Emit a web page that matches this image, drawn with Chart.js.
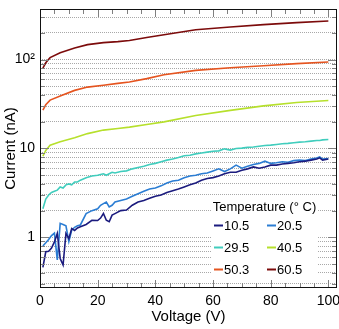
<!DOCTYPE html>
<html>
<head>
<meta charset="utf-8">
<script src="https://cdn.jsdelivr.net/npm/chart.js@4.4.1/dist/chart.umd.min.js"></script>
<style>
  html, body { margin: 0; padding: 0; background: #fff; }
</style>
</head>
<body>
<canvas id="myChart" width="339" height="329"></canvas>
<script>
// legend labels + line colours
const temperatures = ['10.5', '20.5', '29.5', '40.5', '50.3', '60.5'];
const colors = ['#1b1b7e', '#2b7dd3', '#40cdbd', '#b6e02c', '#e5541f', '#7c0b0b'];

// fine voltage grid for the noisy low-temperature curves
const voltageFine = [1,2,3,4,5,6,7,8,9,10,11,12,13,14,16,18,20,21,22,23,24,25,26,
  28,30,32,34,36,38,40,42,44,46,48,50,52,54,56,58,60,62,64,66,68,70,72,74,76,78,80,
  82,84,86,88,90,92,94,96,97,98,100];
const current105 = [0.46,0.69,0.70,0.76,0.89,1.11,0.58,0.49,1.11,0.97,1.26,1.2,1.28,1.32,
  1.4,1.56,1.55,1.65,1.86,1.56,1.5,1.78,1.85,
  2.0,2.03,2.3,2.5,2.6,2.75,2.9,3.0,3.2,3.35,3.5,3.7,3.9,4.1,4.4,4.6,4.7,4.9,5.2,5.4,5.4,
  5.7,5.9,6.2,6.0,6.2,6.5,6.5,6.7,6.8,6.9,7.1,7.2,7.4,7.6,7.85,7.4,7.6];
const current205 = [0.80,0.87,0.95,1.05,1.12,0.56,1.44,1.40,1.35,0.9,1.21,1.3,1.35,1.38,
  1.85,2.0,2.1,2.3,2.4,2.5,2.2,2.3,2.5,
  2.6,2.7,2.9,3.1,3.3,3.5,3.6,3.8,4.1,4.3,4.4,4.7,4.9,5.0,5.2,5.3,5.6,5.9,5.5,5.9,6.5,
  6.0,6.3,6.6,6.8,7.2,6.8,6.9,7.1,7.0,7.3,7.4,7.3,7.6,7.8,8.05,7.6,7.7];
const current295 = [2.1,2.7,3.0,3.2,3.3,3.4,3.7,3.6,3.9,4.0,3.9,4.2,4.2,4.4,
  4.7,4.9,5.0,5.1,5.2,5.0,5.2,5.4,5.3,
  5.5,5.6,5.9,6.1,6.3,6.6,6.8,7.1,7.4,7.6,7.9,8.3,8.4,8.7,8.9,9.1,9.3,9.4,9.9,9.6,10.0,
  10.1,10.3,10.4,10.6,10.8,10.9,11.1,11.3,11.4,11.6,11.8,11.9,12.1,12.3,12.3,12.5,12.6];

// coarser grid for the smooth high-temperature curves
const voltageCoarse = [1,2,3.5,7,12,16.5,22,27,31,37,43,54,66,77.5,89,100];
const current405 = [8.2,9.5,10.9,11.9,13.2,14.7,16.1,16.8,17.4,18.6,19.9,23.5,26.8,30.1,32.9,34.6];
const current503 = [27,31,35,39,45,49,51.5,54,56,61,67.5,75.5,81,85,90,94];
const current605 = [80,92,105,119,135,147,155,159,164,177,190,216,232,247,260,271];

const xTicks = [0, 20, 40, 60, 80, 100];
const yMajor = [1, 10, 100];

const curves = [
  [voltageFine, current105], [voltageFine, current205], [voltageFine, current295],
  [voltageCoarse, current405], [voltageCoarse, current503], [voltageCoarse, current605]
];

const datasets = curves.map((c, i) => ({
  label: temperatures[i],
  data: c[0].map((v, k) => ({x: v, y: c[1][k]})),
  borderColor: colors[i],
  backgroundColor: colors[i],
  borderWidth: 1.6,
  pointRadius: 0,
  tension: 0,
  fill: false
}));

// every 1..9 x 10^k inside the axis range
const yAllTicks = [];
for (let e = -1; e <= 2; e++) {
  for (let m = 1; m <= 9; m++) {
    const v = m * Math.pow(10, e);
    if (v >= 0.27 && v <= 370) yAllTicks.push(v);
  }
}

const font = 'Liberation Sans, Arial, sans-serif';

const frame = {
  id: 'frame',
  afterDraw(chart) {
    const {ctx, chartArea: a, scales} = chart;
    const xs = scales.x, ys = scales.y;
    ctx.save();
    ctx.strokeStyle = '#808080';
    ctx.lineWidth = 1;
    // inward ticks on x (bottom + top)
    for (let v = 0; v <= 100; v += 5) {
      const px = Math.round(xs.getPixelForValue(v)) + 0.5;
      const len = v % 20 === 0 ? 8 : 5;
      ctx.beginPath();
      ctx.moveTo(px, a.bottom); ctx.lineTo(px, a.bottom - len);
      ctx.moveTo(px, a.top); ctx.lineTo(px, a.top + len);
      ctx.stroke();
    }
    // inward ticks on y (left + right)
    yAllTicks.forEach(v => {
      const py = Math.round(ys.getPixelForValue(v)) + 0.5;
      const len = yMajor.includes(v) ? 9 : 5;
      ctx.beginPath();
      ctx.moveTo(a.left, py); ctx.lineTo(a.left + len, py);
      ctx.moveTo(a.right, py); ctx.lineTo(a.right - len, py);
      ctx.stroke();
    });
    ctx.strokeStyle = '#111';
    ctx.strokeRect(Math.round(a.left) + 0.5, Math.round(a.top) + 0.5,
      Math.round(a.right - a.left) - 1, Math.round(a.bottom - a.top) - 1);

    // legend inside the plot
    const bx = 211, by = 198, bw = 107, bh = 82;
    ctx.fillStyle = '#fff';
    ctx.fillRect(bx, by, bw, bh);
    ctx.fillStyle = '#000';
    ctx.font = '13px ' + font;
    ctx.textBaseline = 'middle';
    ctx.textAlign = 'center';
    ctx.fillText('Temperature (\u00b0 C)', bx + bw / 2, 207);
    ctx.textAlign = 'left';
    temperatures.forEach((t, i) => {
      const col = i % 2, row = Math.floor(i / 2);
      const lx = col === 0 ? 214 : 267;
      const ly = 225 + row * 22;
      ctx.strokeStyle = colors[i];
      ctx.lineWidth = 2;
      ctx.beginPath();
      ctx.moveTo(lx, ly + 0.5); ctx.lineTo(lx + 9, ly + 0.5);
      ctx.stroke();
      ctx.fillStyle = '#000';
      ctx.fillText(t, lx + 10, ly + 1);
    });
    ctx.restore();
  }
};

const ctx = document.getElementById('myChart').getContext('2d');
const chart = new Chart(ctx, {
  type: 'line',
  data: { datasets: datasets },
  plugins: [frame],
  options: {
    responsive: false,
    animation: false,
    layout: { padding: { top: 9, right: 2, left: 0, bottom: 0 } },
    plugins: { legend: { display: false }, tooltip: { enabled: false } },
    scales: {
      x: {
        type: 'linear',
        min: 0,
        max: 103,
        afterBuildTicks: s => { s.ticks = xTicks.map(v => ({value: v})); },
        afterFit: s => { s.height = 41; s.paddingLeft = 0; s.paddingRight = 0; },
        grid: { display: false, drawTicks: false },
        border: { display: false },
        ticks: { color: '#000', font: { family: font, size: 14 }, padding: 5, maxRotation: 0 },
        title: { display: true, text: 'Voltage (V)', color: '#000',
          font: { family: font, size: 15 }, padding: { top: 0, bottom: 3 } }
      },
      y: {
        type: 'logarithmic',
        min: 0.27,
        max: 370,
        afterBuildTicks: s => { s.ticks = yAllTicks.map(v => ({value: v})); },
        afterFit: s => { s.width = 40; s.paddingTop = 0; s.paddingBottom = 0; },
        grid: { color: '#a8a8a8', lineWidth: 1, drawTicks: false },
        border: { display: false, dash: [1, 1] },
        ticks: {
          autoSkip: false,
          color: '#000',
          font: { family: font, size: 14 },
          padding: 5,
          callback: v => v === 1 ? '1' : v === 10 ? '10' : v === 100 ? '10\u00b2' : ''
        },
        title: { display: true, text: 'Current (nA)', color: '#000',
          font: { family: font, size: 15 }, padding: { top: 2, bottom: 0 } }
      }
    }
  }
});
</script>
</body>
</html>
